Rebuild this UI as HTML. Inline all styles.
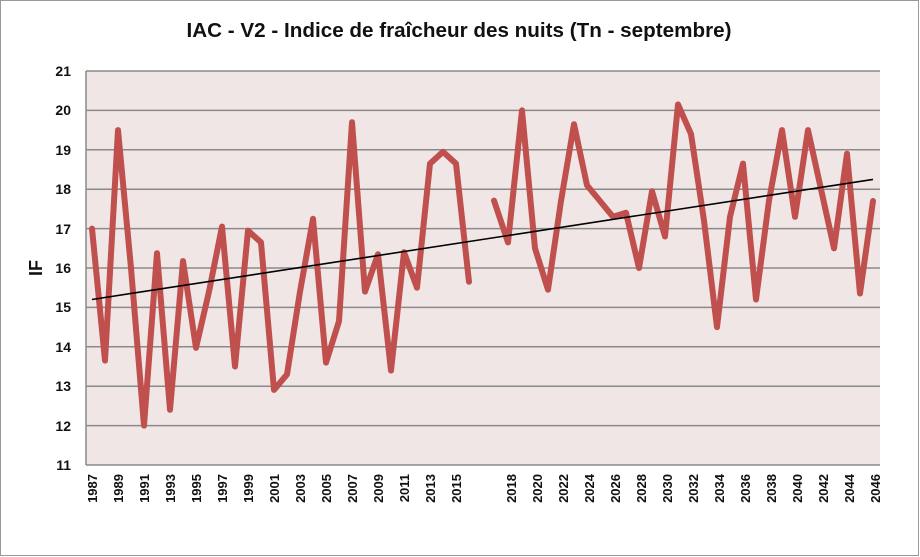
<!DOCTYPE html>
<html><head><meta charset="utf-8"><style>
html,body{margin:0;padding:0;background:#fff;}
svg{display:block;font-family:"Liberation Sans",sans-serif;}
</style></head><body>
<svg width="920" height="557" viewBox="0 0 920 557">
<rect x="0.5" y="0.5" width="918" height="555" fill="#fff" stroke="#999"/>
<text x="459" y="37" text-anchor="middle" font-size="20" font-weight="bold" fill="#111" textLength="545" lengthAdjust="spacingAndGlyphs">IAC - V2 - Indice de fraîcheur des nuits (Tn - septembre)</text>
<rect x="86" y="71" width="794" height="394" fill="#f0e6e6"/>
<g stroke="#8a8a8a" stroke-width="1.5">
<line x1="86" y1="71" x2="880" y2="71"/><line x1="86" y1="110.4" x2="880" y2="110.4"/><line x1="86" y1="149.8" x2="880" y2="149.8"/><line x1="86" y1="189.2" x2="880" y2="189.2"/><line x1="86" y1="228.6" x2="880" y2="228.6"/><line x1="86" y1="268" x2="880" y2="268"/><line x1="86" y1="307.4" x2="880" y2="307.4"/><line x1="86" y1="346.8" x2="880" y2="346.8"/><line x1="86" y1="386.2" x2="880" y2="386.2"/><line x1="86" y1="425.6" x2="880" y2="425.6"/><line x1="86" y1="465" x2="880" y2="465"/>
<line x1="86" y1="71" x2="86" y2="465"/>
</g>
<g font-size="14" font-weight="bold" fill="#111" text-anchor="end">
<text x="71" y="76">21</text><text x="71" y="115">20</text><text x="71" y="155">19</text><text x="71" y="194">18</text><text x="71" y="234">17</text><text x="71" y="273">16</text><text x="71" y="312">15</text><text x="71" y="352">14</text><text x="71" y="391">13</text><text x="71" y="431">12</text><text x="71" y="470">11</text>
</g>
<text transform="translate(42,268) rotate(-90)" text-anchor="middle" font-size="18" font-weight="bold" fill="#111">IF</text>
<g fill="none" stroke="#c0504d" stroke-width="6" stroke-linejoin="round" stroke-linecap="round">
<polyline points="92,228.6 105,360.6 118,130.1 131,268 144,425.6 157,253.2 170,409.8 183,261.1 196,347.8 209,291.6 222,226.6 235,366.5 248,230.6 261,242.4 274,389.9 287,374.4 300,291.6 313,218.8 326,362.6 339,321.2 352,122.2 365,291.6 378,254.2 391,370.5 404,252.2 417,287.7 430,163.6 443,151.8 456,163.6 469,281.8"/>
<polyline points="494,200.6 508,242.4 522,110.4 535,248.3 548,289.7 561,201 574,124.2 587,185.3 600,201 613,216.8 626,212.8 639,268 652,191.2 665,236.5 678,104.5 691,134 704,220.7 717,327.1 730,216.8 743,163.6 756,299.5 769,200.6 782,130.1 795,216.8 808,130.1 821,189.2 834,248.3 847,153.7 860,293.5 873,201"/>
</g>
<line x1="92" y1="299.5" x2="873" y2="179.4" stroke="#000" stroke-width="1.6"/>
<g font-size="13" font-weight="bold" fill="#111" text-anchor="end">
<text transform="translate(97,474) rotate(-90)">1987</text>
<text transform="translate(123,474) rotate(-90)">1989</text>
<text transform="translate(149,474) rotate(-90)">1991</text>
<text transform="translate(175,474) rotate(-90)">1993</text>
<text transform="translate(201,474) rotate(-90)">1995</text>
<text transform="translate(227,474) rotate(-90)">1997</text>
<text transform="translate(253,474) rotate(-90)">1999</text>
<text transform="translate(279,474) rotate(-90)">2001</text>
<text transform="translate(305,474) rotate(-90)">2003</text>
<text transform="translate(331,474) rotate(-90)">2005</text>
<text transform="translate(357,474) rotate(-90)">2007</text>
<text transform="translate(383,474) rotate(-90)">2009</text>
<text transform="translate(409,474) rotate(-90)">2011</text>
<text transform="translate(435,474) rotate(-90)">2013</text>
<text transform="translate(461,474) rotate(-90)">2015</text>
<text transform="translate(516,474) rotate(-90)">2018</text>
<text transform="translate(542,474) rotate(-90)">2020</text>
<text transform="translate(568,474) rotate(-90)">2022</text>
<text transform="translate(594,474) rotate(-90)">2024</text>
<text transform="translate(620,474) rotate(-90)">2026</text>
<text transform="translate(646,474) rotate(-90)">2028</text>
<text transform="translate(672,474) rotate(-90)">2030</text>
<text transform="translate(698,474) rotate(-90)">2032</text>
<text transform="translate(724,474) rotate(-90)">2034</text>
<text transform="translate(750,474) rotate(-90)">2036</text>
<text transform="translate(776,474) rotate(-90)">2038</text>
<text transform="translate(802,474) rotate(-90)">2040</text>
<text transform="translate(828,474) rotate(-90)">2042</text>
<text transform="translate(854,474) rotate(-90)">2044</text>
<text transform="translate(880,474) rotate(-90)">2046</text>
</g>
</svg>
</body></html>
